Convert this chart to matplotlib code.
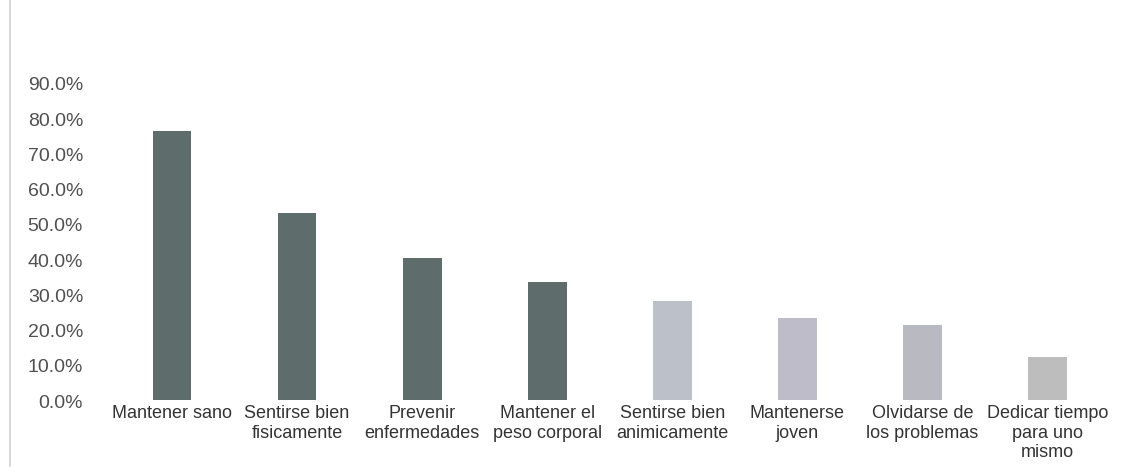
import matplotlib
matplotlib.use("Agg")
import matplotlib.pyplot as plt
from matplotlib.lines import Line2D

# categorias y porcentajes
categorias = ["Mantener sano", "Sentirse bien\nfisicamente", "Prevenir\nenfermedades",
              "Mantener el\npeso corporal", "Sentirse bien\nanimicamente", "Mantenerse\njoven",
              "Olvidarse de\nlos problemas", "Dedicar tiempo\npara uno\nmismo"]
valores = [76.5, 53.0, 40.2, 33.5, 28.2, 23.2, 21.2, 12.2]
ticks_y = [0, 10, 20, 30, 40, 50, 60, 70, 80, 90]

colores = ["#5e6c6c"] * 4 + ["#bcc0c8", "#bdbcc8", "#b9b9c2", "#bdbdbd"]

plt.rcParams['font.family'] = ['Liberation Sans', 'DejaVu Sans']

fig = plt.figure(figsize=(11.3, 4.77), dpi=100)
ax = fig.add_axes([0.0969, 0.1593, 0.8854, 0.6646])

x = list(range(len(categorias)))
ax.bar(x, valores, width=0.31, color=colores, edgecolor="none")

ax.set_xlim(-0.5, len(categorias) - 0.5)
ax.set_ylim(0, 90)
ax.set_yticks(ticks_y)
ax.set_yticklabels([f"{v:.1f}%" for v in ticks_y], fontsize=14, color="#505050")
ax.set_xticks(x)
ax.set_xticklabels(categorias, fontsize=13, color="#333333", linespacing=1.2)
ax.tick_params(axis="y", length=0, pad=19)
ax.tick_params(axis="x", length=0, pad=3)
for s in ax.spines.values():
    s.set_visible(False)

# borde del escaneo a la izquierda
fig.add_artist(Line2D([0.009, 0.009], [0.02, 1.0], color="#d0d0d0", linewidth=1.2))

fig.savefig("out.png", dpi=100)
